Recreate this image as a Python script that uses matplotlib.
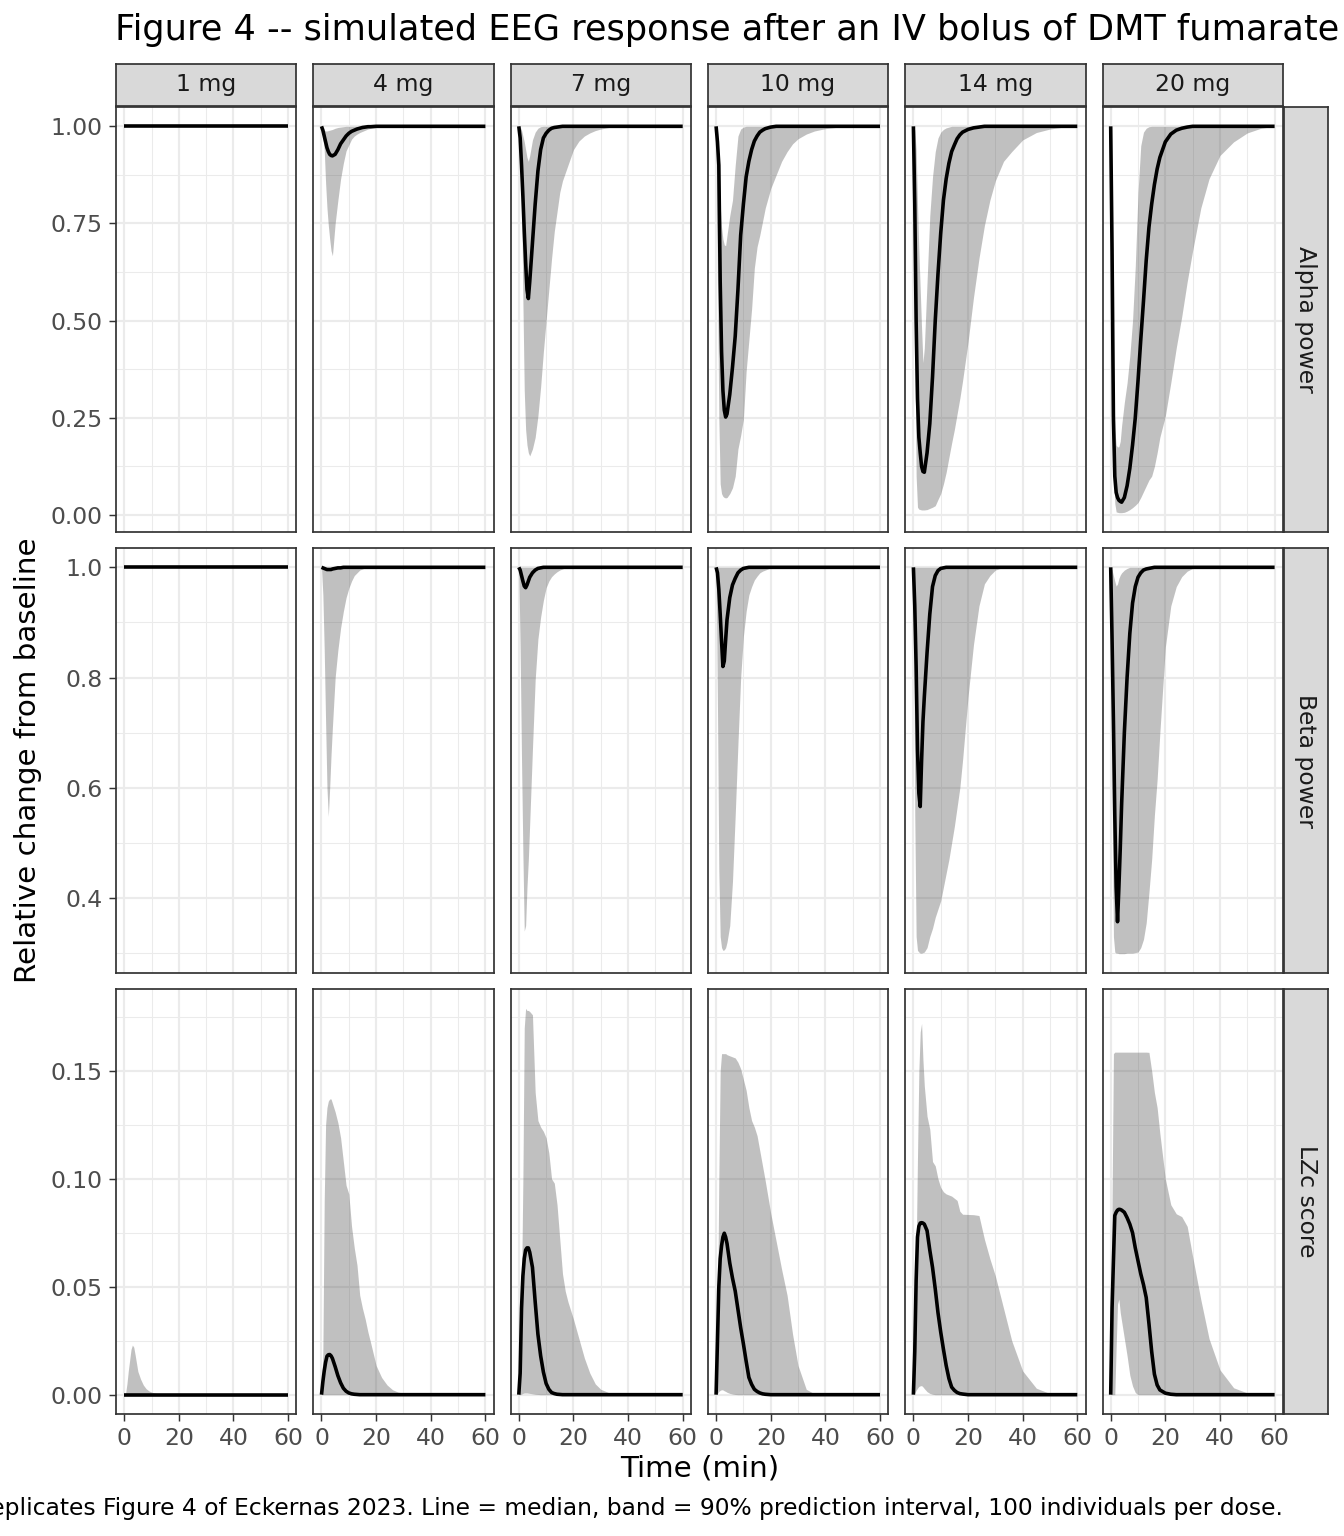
import matplotlib
matplotlib.use("Agg")
import matplotlib.pyplot as plt
from matplotlib.ticker import MultipleLocator, FormatStrFormatter

# facets
doses = ["1 mg", "4 mg", "7 mg", "10 mg", "14 mg", "20 mg"]
metrics = ["Alpha power", "Beta power", "LZc score"]

# shared time grid (min)
time_min = [0, 0.5, 1, 1.5, 2, 2.5, 3, 3.5, 4,
            5, 6, 7, 8, 9, 10, 11, 12, 13, 14, 15, 16, 17, 18,
            20, 22, 24, 26, 28, 30,
            33, 36, 40, 45, 50, 55, 60]

# ---- Alpha power: median, 5th and 95th percentile, one list per dose
alpha_med = [
    [1.0, 1.0, 1.0, 1.0, 1.0, 1.0, 1.0, 1.0, 1.0,
     1.0, 1.0, 1.0, 1.0, 1.0, 1.0, 1.0, 1.0, 1.0, 1.0, 1.0, 1.0, 1.0, 1.0,
     1.0, 1.0, 1.0, 1.0, 1.0, 1.0,
     1.0, 1.0, 1.0, 1.0, 1.0, 1.0, 1.0],
    [1.0, 0.99, 0.975, 0.96, 0.945, 0.935, 0.928, 0.925, 0.924,
     0.928, 0.94, 0.955, 0.965, 0.975, 0.982, 0.987, 0.99, 0.993, 0.995, 0.997, 0.998, 0.999, 0.999,
     1.0, 1.0, 1.0, 1.0, 1.0, 1.0,
     1.0, 1.0, 1.0, 1.0, 1.0, 1.0, 1.0],
    [1.0, 0.97, 0.9, 0.82, 0.73, 0.65, 0.58, 0.557, 0.6,
     0.7, 0.8, 0.885, 0.94, 0.97, 0.982, 0.99, 0.995, 0.997, 0.998, 0.999, 1.0, 1.0, 1.0,
     1.0, 1.0, 1.0, 1.0, 1.0, 1.0,
     1.0, 1.0, 1.0, 1.0, 1.0, 1.0, 1.0],
    [1.0, 0.96, 0.9, 0.6, 0.42, 0.32, 0.27, 0.252, 0.26,
     0.31, 0.38, 0.46, 0.58, 0.72, 0.8, 0.87, 0.91, 0.94, 0.962, 0.975, 0.985, 0.99, 0.994,
     0.998, 1.0, 1.0, 1.0, 1.0, 1.0,
     1.0, 1.0, 1.0, 1.0, 1.0, 1.0, 1.0],
    [1.0, 0.8, 0.5, 0.3, 0.2, 0.16, 0.125, 0.112, 0.11,
     0.16, 0.235, 0.355, 0.5, 0.62, 0.725, 0.81, 0.865, 0.905, 0.935, 0.952, 0.968, 0.978, 0.985,
     0.992, 0.996, 0.998, 1.0, 1.0, 1.0,
     1.0, 1.0, 1.0, 1.0, 1.0, 1.0, 1.0],
    [1.0, 0.68, 0.25, 0.1, 0.058, 0.045, 0.038, 0.035, 0.033,
     0.045, 0.075, 0.12, 0.18, 0.25, 0.345, 0.45, 0.55, 0.655, 0.74, 0.8, 0.85, 0.89, 0.92,
     0.96, 0.98, 0.99, 0.995, 0.998, 1.0,
     1.0, 1.0, 1.0, 1.0, 1.0, 1.0, 1.0],
]
alpha_lo = [
    [1.0, 1.0, 1.0, 1.0, 1.0, 1.0, 1.0, 1.0, 1.0,
     1.0, 1.0, 1.0, 1.0, 1.0, 1.0, 1.0, 1.0, 1.0, 1.0, 1.0, 1.0, 1.0, 1.0,
     1.0, 1.0, 1.0, 1.0, 1.0, 1.0,
     1.0, 1.0, 1.0, 1.0, 1.0, 1.0, 1.0],
    [1.0, 0.97, 0.94, 0.855, 0.79, 0.745, 0.71, 0.68, 0.667,
     0.75, 0.81, 0.865, 0.905, 0.937, 0.952, 0.967, 0.975, 0.98, 0.984, 0.987, 0.99, 0.993, 0.995,
     0.997, 0.999, 1.0, 1.0, 1.0, 1.0,
     1.0, 1.0, 1.0, 1.0, 1.0, 1.0, 1.0],
    [1.0, 0.9, 0.85, 0.55, 0.32, 0.22, 0.18, 0.16, 0.152,
     0.17, 0.2, 0.255, 0.33, 0.42, 0.5, 0.58, 0.66, 0.73, 0.78, 0.83, 0.86, 0.88, 0.9,
     0.94, 0.962, 0.975, 0.983, 0.989, 0.993,
     0.997, 0.999, 1.0, 1.0, 1.0, 1.0, 1.0],
    [1.0, 0.6, 0.25, 0.08, 0.055, 0.048, 0.045, 0.044, 0.045,
     0.055, 0.07, 0.1, 0.17, 0.205, 0.247, 0.37, 0.45, 0.53, 0.635, 0.69, 0.72, 0.755, 0.79,
     0.84, 0.875, 0.91, 0.935, 0.955, 0.968,
     0.98, 0.988, 0.994, 0.998, 1.0, 1.0, 1.0],
    [1.0, 0.5, 0.1, 0.02, 0.015, 0.014, 0.013, 0.013, 0.013,
     0.014, 0.017, 0.02, 0.024, 0.04, 0.055, 0.08, 0.11, 0.148, 0.185, 0.22, 0.26, 0.3, 0.345,
     0.445, 0.56, 0.66, 0.745, 0.81, 0.86,
     0.91, 0.935, 0.965, 0.984, 0.993, 0.998, 1.0],
    [1.0, 0.5, 0.15, 0.03, 0.008, 0.007, 0.006, 0.006, 0.006,
     0.007, 0.01, 0.014, 0.019, 0.025, 0.032, 0.045, 0.06, 0.075, 0.09, 0.1, 0.125, 0.16, 0.2,
     0.255, 0.34, 0.43, 0.51, 0.6, 0.68,
     0.79, 0.865, 0.925, 0.96, 0.983, 0.995, 1.0],
]
alpha_hi = [
    [1.0, 1.0, 1.0, 1.0, 1.0, 1.0, 1.0, 1.0, 1.0,
     1.0, 1.0, 1.0, 1.0, 1.0, 1.0, 1.0, 1.0, 1.0, 1.0, 1.0, 1.0, 1.0, 1.0,
     1.0, 1.0, 1.0, 1.0, 1.0, 1.0,
     1.0, 1.0, 1.0, 1.0, 1.0, 1.0, 1.0],
    [1.0, 0.995, 0.99, 0.988, 0.988, 0.989, 0.99, 0.991, 0.992,
     0.995, 0.997, 0.998, 0.999, 1.0, 1.0, 1.0, 1.0, 1.0, 1.0, 1.0, 1.0, 1.0, 1.0,
     1.0, 1.0, 1.0, 1.0, 1.0, 1.0,
     1.0, 1.0, 1.0, 1.0, 1.0, 1.0, 1.0],
    [1.0, 0.998, 0.99, 0.975, 0.96, 0.94, 0.92, 0.91, 0.925,
     0.965, 0.985, 0.995, 0.999, 1.0, 1.0, 1.0, 1.0, 1.0, 1.0, 1.0, 1.0, 1.0, 1.0,
     1.0, 1.0, 1.0, 1.0, 1.0, 1.0,
     1.0, 1.0, 1.0, 1.0, 1.0, 1.0, 1.0],
    [1.0, 0.99, 0.93, 0.8, 0.74, 0.71, 0.695, 0.693, 0.72,
     0.77, 0.81, 0.9, 0.975, 0.993, 0.998, 1.0, 1.0, 1.0, 1.0, 1.0, 1.0, 1.0, 1.0,
     1.0, 1.0, 1.0, 1.0, 1.0, 1.0,
     1.0, 1.0, 1.0, 1.0, 1.0, 1.0, 1.0],
    [1.0, 0.99, 0.94, 0.8, 0.68, 0.58, 0.48, 0.392, 0.43,
     0.6, 0.77, 0.87, 0.935, 0.97, 0.985, 0.992, 0.996, 0.998, 1.0, 1.0, 1.0, 1.0, 1.0,
     1.0, 1.0, 1.0, 1.0, 1.0, 1.0,
     1.0, 1.0, 1.0, 1.0, 1.0, 1.0, 1.0],
    [1.0, 0.75, 0.4, 0.22, 0.18, 0.175, 0.176, 0.19, 0.23,
     0.29, 0.34, 0.41, 0.5, 0.64, 0.83, 0.95, 0.985, 0.995, 0.999, 1.0, 1.0, 1.0, 1.0,
     1.0, 1.0, 1.0, 1.0, 1.0, 1.0,
     1.0, 1.0, 1.0, 1.0, 1.0, 1.0, 1.0],
]

# ---- Beta power
beta_med = [
    [1.0, 1.0, 1.0, 1.0, 1.0, 1.0, 1.0, 1.0, 1.0,
     1.0, 1.0, 1.0, 1.0, 1.0, 1.0, 1.0, 1.0, 1.0, 1.0, 1.0, 1.0, 1.0, 1.0,
     1.0, 1.0, 1.0, 1.0, 1.0, 1.0,
     1.0, 1.0, 1.0, 1.0, 1.0, 1.0, 1.0],
    [1.0, 0.999, 0.998, 0.997, 0.996, 0.996, 0.996, 0.996, 0.997,
     0.998, 0.999, 0.999, 1.0, 1.0, 1.0, 1.0, 1.0, 1.0, 1.0, 1.0, 1.0, 1.0, 1.0,
     1.0, 1.0, 1.0, 1.0, 1.0, 1.0,
     1.0, 1.0, 1.0, 1.0, 1.0, 1.0, 1.0],
    [1.0, 0.995, 0.985, 0.975, 0.966, 0.963, 0.968, 0.975, 0.982,
     0.99, 0.995, 0.998, 0.999, 1.0, 1.0, 1.0, 1.0, 1.0, 1.0, 1.0, 1.0, 1.0, 1.0,
     1.0, 1.0, 1.0, 1.0, 1.0, 1.0,
     1.0, 1.0, 1.0, 1.0, 1.0, 1.0, 1.0],
    [1.0, 0.99, 0.96, 0.915, 0.866, 0.82, 0.83, 0.869, 0.905,
     0.945, 0.968, 0.98, 0.99, 0.995, 0.998, 0.999, 1.0, 1.0, 1.0, 1.0, 1.0, 1.0, 1.0,
     1.0, 1.0, 1.0, 1.0, 1.0, 1.0,
     1.0, 1.0, 1.0, 1.0, 1.0, 1.0, 1.0],
    [1.0, 0.93, 0.82, 0.67, 0.59, 0.566, 0.65, 0.72, 0.765,
     0.845, 0.915, 0.965, 0.985, 0.994, 0.998, 0.999, 1.0, 1.0, 1.0, 1.0, 1.0, 1.0, 1.0,
     1.0, 1.0, 1.0, 1.0, 1.0, 1.0,
     1.0, 1.0, 1.0, 1.0, 1.0, 1.0, 1.0],
    [1.0, 0.87, 0.72, 0.55, 0.42, 0.357, 0.42, 0.49, 0.57,
     0.7, 0.8, 0.88, 0.935, 0.965, 0.982, 0.99, 0.995, 0.997, 0.998, 0.999, 1.0, 1.0, 1.0,
     1.0, 1.0, 1.0, 1.0, 1.0, 1.0,
     1.0, 1.0, 1.0, 1.0, 1.0, 1.0, 1.0],
]
beta_lo = [
    [1.0, 1.0, 1.0, 1.0, 1.0, 1.0, 1.0, 1.0, 1.0,
     1.0, 1.0, 1.0, 1.0, 1.0, 1.0, 1.0, 1.0, 1.0, 1.0, 1.0, 1.0, 1.0, 1.0,
     1.0, 1.0, 1.0, 1.0, 1.0, 1.0,
     1.0, 1.0, 1.0, 1.0, 1.0, 1.0, 1.0],
    [1.0, 0.95, 0.85, 0.72, 0.6, 0.548, 0.6, 0.66, 0.71,
     0.8, 0.85, 0.89, 0.92, 0.945, 0.962, 0.975, 0.985, 0.99, 0.995, 0.997, 0.999, 1.0, 1.0,
     1.0, 1.0, 1.0, 1.0, 1.0, 1.0,
     1.0, 1.0, 1.0, 1.0, 1.0, 1.0, 1.0],
    [1.0, 0.85, 0.65, 0.48, 0.34, 0.35, 0.42, 0.47, 0.536,
     0.67, 0.796, 0.87, 0.91, 0.94, 0.963, 0.975, 0.983, 0.988, 0.992, 0.995, 0.997, 0.999, 1.0,
     1.0, 1.0, 1.0, 1.0, 1.0, 1.0,
     1.0, 1.0, 1.0, 1.0, 1.0, 1.0, 1.0],
    [1.0, 0.75, 0.45, 0.33, 0.31, 0.305, 0.306, 0.31, 0.32,
     0.35, 0.43, 0.55, 0.68, 0.8, 0.875, 0.92, 0.95, 0.965, 0.977, 0.984, 0.99, 0.993, 0.995,
     0.999, 1.0, 1.0, 1.0, 1.0, 1.0,
     1.0, 1.0, 1.0, 1.0, 1.0, 1.0, 1.0],
    [1.0, 0.55, 0.33, 0.305, 0.302, 0.3, 0.3, 0.301, 0.302,
     0.31, 0.33, 0.345, 0.365, 0.38, 0.395, 0.42, 0.445, 0.47, 0.5, 0.53, 0.565, 0.6, 0.65,
     0.765, 0.86, 0.93, 0.97, 0.985, 0.995,
     1.0, 1.0, 1.0, 1.0, 1.0, 1.0, 1.0],
    [1.0, 0.6, 0.33, 0.302, 0.3, 0.3, 0.299, 0.299, 0.299,
     0.299, 0.3, 0.3, 0.3, 0.301, 0.302, 0.31, 0.325, 0.355, 0.41, 0.47, 0.55, 0.615, 0.7,
     0.855, 0.93, 0.965, 0.983, 0.993, 0.998,
     1.0, 1.0, 1.0, 1.0, 1.0, 1.0, 1.0],
]
beta_hi = [
    [1.0, 1.0, 1.0, 1.0, 1.0, 1.0, 1.0, 1.0, 1.0,
     1.0, 1.0, 1.0, 1.0, 1.0, 1.0, 1.0, 1.0, 1.0, 1.0, 1.0, 1.0, 1.0, 1.0,
     1.0, 1.0, 1.0, 1.0, 1.0, 1.0,
     1.0, 1.0, 1.0, 1.0, 1.0, 1.0, 1.0],
    [1.0, 1.0, 1.0, 1.0, 1.0, 1.0, 1.0, 1.0, 1.0,
     1.0, 1.0, 1.0, 1.0, 1.0, 1.0, 1.0, 1.0, 1.0, 1.0, 1.0, 1.0, 1.0, 1.0,
     1.0, 1.0, 1.0, 1.0, 1.0, 1.0,
     1.0, 1.0, 1.0, 1.0, 1.0, 1.0, 1.0],
    [1.0, 1.0, 1.0, 1.0, 1.0, 1.0, 1.0, 1.0, 1.0,
     1.0, 1.0, 1.0, 1.0, 1.0, 1.0, 1.0, 1.0, 1.0, 1.0, 1.0, 1.0, 1.0, 1.0,
     1.0, 1.0, 1.0, 1.0, 1.0, 1.0,
     1.0, 1.0, 1.0, 1.0, 1.0, 1.0, 1.0],
    [1.0, 1.0, 1.0, 1.0, 1.0, 1.0, 1.0, 1.0, 1.0,
     1.0, 1.0, 1.0, 1.0, 1.0, 1.0, 1.0, 1.0, 1.0, 1.0, 1.0, 1.0, 1.0, 1.0,
     1.0, 1.0, 1.0, 1.0, 1.0, 1.0,
     1.0, 1.0, 1.0, 1.0, 1.0, 1.0, 1.0],
    [1.0, 1.0, 1.0, 1.0, 1.0, 1.0, 1.0, 1.0, 1.0,
     1.0, 1.0, 1.0, 1.0, 1.0, 1.0, 1.0, 1.0, 1.0, 1.0, 1.0, 1.0, 1.0, 1.0,
     1.0, 1.0, 1.0, 1.0, 1.0, 1.0,
     1.0, 1.0, 1.0, 1.0, 1.0, 1.0, 1.0],
    [1.0, 0.995, 0.985, 0.975, 0.966, 0.97, 0.98, 0.986, 0.99,
     0.995, 0.998, 1.0, 1.0, 1.0, 1.0, 1.0, 1.0, 1.0, 1.0, 1.0, 1.0, 1.0, 1.0,
     1.0, 1.0, 1.0, 1.0, 1.0, 1.0,
     1.0, 1.0, 1.0, 1.0, 1.0, 1.0, 1.0],
]

# ---- LZc score
lzc_med = [
    [0.0, 0.0, 0.0, 0.0, 0.0, 0.0, 0.0, 0.0, 0.0,
     0.0, 0.0, 0.0, 0.0, 0.0, 0.0, 0.0, 0.0, 0.0, 0.0, 0.0, 0.0, 0.0, 0.0,
     0.0, 0.0, 0.0, 0.0, 0.0, 0.0,
     0.0, 0.0, 0.0, 0.0, 0.0, 0.0, 0.0],
    [0.0, 0.006, 0.011, 0.015, 0.0178, 0.0185, 0.0186, 0.018, 0.0168,
     0.013, 0.0088, 0.0055, 0.003, 0.0016, 0.0008, 0.0004, 0.0002, 0.0001, 0.0, 0.0, 0.0, 0.0, 0.0,
     0.0, 0.0, 0.0, 0.0, 0.0, 0.0,
     0.0, 0.0, 0.0, 0.0, 0.0, 0.0, 0.0],
    [0.0, 0.01, 0.04, 0.055, 0.063, 0.067, 0.068, 0.068, 0.066,
     0.059, 0.043, 0.028, 0.018, 0.0105, 0.0052, 0.0025, 0.001, 0.0005, 0.0002, 0.0001, 0.0, 0.0, 0.0,
     0.0, 0.0, 0.0, 0.0, 0.0, 0.0,
     0.0, 0.0, 0.0, 0.0, 0.0, 0.0, 0.0],
    [0.0, 0.025, 0.05, 0.063, 0.069, 0.073, 0.0748, 0.073, 0.07,
     0.061, 0.054, 0.048, 0.0395, 0.031, 0.0235, 0.0155, 0.008, 0.0048, 0.0025, 0.0015, 0.0008, 0.0004, 0.0002,
     0.0, 0.0, 0.0, 0.0, 0.0, 0.0,
     0.0, 0.0, 0.0, 0.0, 0.0, 0.0, 0.0],
    [0.0, 0.02, 0.053, 0.073, 0.078, 0.0795, 0.0797, 0.0795, 0.079,
     0.076, 0.067, 0.059, 0.049, 0.038, 0.029, 0.021, 0.0135, 0.0075, 0.0035, 0.002, 0.001, 0.0005, 0.0003,
     0.0, 0.0, 0.0, 0.0, 0.0, 0.0,
     0.0, 0.0, 0.0, 0.0, 0.0, 0.0, 0.0],
    [0.0, 0.04, 0.062, 0.083, 0.0845, 0.0855, 0.0859, 0.0858, 0.0855,
     0.0845, 0.082, 0.079, 0.075, 0.068, 0.062, 0.056, 0.051, 0.045, 0.033, 0.02, 0.0095, 0.0045, 0.0022,
     0.0007, 0.0002, 0.0, 0.0, 0.0, 0.0,
     0.0, 0.0, 0.0, 0.0, 0.0, 0.0, 0.0],
]
lzc_lo = [
    [0.0, 0.0, 0.0, 0.0, 0.0, 0.0, 0.0, 0.0, 0.0,
     0.0, 0.0, 0.0, 0.0, 0.0, 0.0, 0.0, 0.0, 0.0, 0.0, 0.0, 0.0, 0.0, 0.0,
     0.0, 0.0, 0.0, 0.0, 0.0, 0.0,
     0.0, 0.0, 0.0, 0.0, 0.0, 0.0, 0.0],
    [0.0, 0.0, 0.0, 0.0, 0.0, 0.0, 0.0, 0.0, 0.0,
     0.0, 0.0, 0.0, 0.0, 0.0, 0.0, 0.0, 0.0, 0.0, 0.0, 0.0, 0.0, 0.0, 0.0,
     0.0, 0.0, 0.0, 0.0, 0.0, 0.0,
     0.0, 0.0, 0.0, 0.0, 0.0, 0.0, 0.0],
    [0.0, 0.0, 0.0003, 0.0006, 0.0008, 0.0008, 0.0008, 0.0007, 0.0006,
     0.0004, 0.0002, 0.0001, 0.0, 0.0, 0.0, 0.0, 0.0, 0.0, 0.0, 0.0, 0.0, 0.0, 0.0,
     0.0, 0.0, 0.0, 0.0, 0.0, 0.0,
     0.0, 0.0, 0.0, 0.0, 0.0, 0.0, 0.0],
    [0.0, 0.0005, 0.0015, 0.002, 0.0023, 0.0022, 0.0018, 0.0015, 0.0011,
     0.0006, 0.0003, 0.0001, 0.0, 0.0, 0.0, 0.0, 0.0, 0.0, 0.0, 0.0, 0.0, 0.0, 0.0,
     0.0, 0.0, 0.0, 0.0, 0.0, 0.0,
     0.0, 0.0, 0.0, 0.0, 0.0, 0.0, 0.0],
    [0.0, 0.0008, 0.002, 0.003, 0.0038, 0.0041, 0.0042, 0.0036, 0.0028,
     0.0014, 0.0006, 0.0002, 0.0, 0.0, 0.0, 0.0, 0.0, 0.0, 0.0, 0.0, 0.0, 0.0, 0.0,
     0.0, 0.0, 0.0, 0.0, 0.0, 0.0,
     0.0, 0.0, 0.0, 0.0, 0.0, 0.0, 0.0],
    [0.0, 0.0, 0.0, 0.0, 0.022, 0.042, 0.0443, 0.038, 0.034,
     0.026, 0.018, 0.009, 0.004, 0.001, 0.0, 0.0, 0.0, 0.0, 0.0, 0.0, 0.0, 0.0, 0.0,
     0.0, 0.0, 0.0, 0.0, 0.0, 0.0,
     0.0, 0.0, 0.0, 0.0, 0.0, 0.0, 0.0],
]
lzc_hi = [
    [0.0, 0.0005, 0.005, 0.011, 0.016, 0.021, 0.023, 0.022, 0.0185,
     0.0108, 0.0072, 0.0045, 0.0028, 0.0018, 0.0012, 0.0008, 0.0005, 0.0004, 0.0003, 0.0002, 0.0001, 0.0001, 0.0,
     0.0, 0.0, 0.0, 0.0, 0.0, 0.0,
     0.0, 0.0, 0.0, 0.0, 0.0, 0.0, 0.0],
    [0.0, 0.02, 0.09, 0.125, 0.133, 0.136, 0.137, 0.137, 0.135,
     0.131, 0.126, 0.119, 0.108, 0.097, 0.093, 0.078, 0.068, 0.06, 0.046, 0.04, 0.035, 0.029, 0.024,
     0.0135, 0.008, 0.0045, 0.0023, 0.0012, 0.0007,
     0.0003, 0.0, 0.0, 0.0, 0.0, 0.0, 0.0],
    [0.0, 0.012, 0.05, 0.1, 0.17, 0.179, 0.178, 0.178, 0.1775,
     0.176, 0.14, 0.127, 0.124, 0.122, 0.119, 0.112, 0.1, 0.098, 0.088, 0.072, 0.056, 0.048, 0.043,
     0.035, 0.026, 0.017, 0.01, 0.005, 0.0025,
     0.0009, 0.0002, 0.0, 0.0, 0.0, 0.0, 0.0],
    [0.0, 0.035, 0.1, 0.15, 0.158, 0.158, 0.158, 0.158, 0.1575,
     0.157, 0.1565, 0.156, 0.154, 0.151, 0.146, 0.141, 0.133, 0.127, 0.124, 0.12, 0.113, 0.106, 0.099,
     0.084, 0.071, 0.058, 0.046, 0.028, 0.0135,
     0.0025, 0.0004, 0.0, 0.0, 0.0, 0.0, 0.0],
    [0.0, 0.025, 0.065, 0.11, 0.15, 0.168, 0.172, 0.155, 0.143,
     0.129, 0.123, 0.108, 0.106, 0.1, 0.096, 0.094, 0.093, 0.0925, 0.092, 0.091, 0.09, 0.085, 0.0836,
     0.0835, 0.0834, 0.083, 0.072, 0.063, 0.055,
     0.04, 0.025, 0.011, 0.003, 0.0005, 0.0, 0.0],
    [0.0, 0.09, 0.158, 0.1587, 0.1587, 0.1587, 0.1587, 0.1587, 0.1587,
     0.1587, 0.1587, 0.1587, 0.1587, 0.1587, 0.1587, 0.1587, 0.1587, 0.1587, 0.1586, 0.15, 0.14, 0.133, 0.121,
     0.1, 0.088, 0.0838, 0.0825, 0.078, 0.064,
     0.044, 0.026, 0.0115, 0.0032, 0.0008, 0.0, 0.0],
]

rows = [(alpha_med, alpha_lo, alpha_hi),
        (beta_med, beta_lo, beta_hi),
        (lzc_med, lzc_lo, lzc_hi)]
y_steps = [0.25, 0.2, 0.05]
y_fmts = ["%.2f", "%.1f", "%.2f"]

# layout in pixels of the 1344 x 1536 canvas
W, H = 1344, 1536
DPI = 192
left0, pw, gap = 116, 180.3, 17.0
row_tops = [107, 548, 989]
ph = 425
strip_h = 43
strip_w = 44

fig = plt.figure(figsize=(W / DPI, H / DPI), dpi=DPI)


def fbox(x, y, w, h):
    # pixel box (top-left origin) -> figure fraction
    return [x / W, 1 - (y + h) / H, w / W, h / H]


def strip(rect, label, rot=0):
    sa = fig.add_axes(rect)
    sa.set_facecolor("#D9D9D9")
    sa.set_xticks([])
    sa.set_yticks([])
    for s in sa.spines.values():
        s.set_color("#333333")
        s.set_linewidth(0.65)
    sa.text(0.5, 0.5, label, transform=sa.transAxes, ha="center", va="center",
            fontsize=8.8, color="#1A1A1A", rotation=rot)


for r, (med, lo, hi) in enumerate(rows):
    allv = [v for group in (med, lo, hi) for s in group for v in s]
    vmin, vmax = min(allv), max(allv)
    pad = 0.05 * (vmax - vmin)
    top = row_tops[r]
    for c, dose in enumerate(doses):
        x = left0 + c * (pw + gap)
        ax = fig.add_axes(fbox(x, top, pw, ph))
        ax.set_axisbelow(True)
        ax.fill_between(time_min, lo[c], hi[c], color="#4D4D4D", alpha=0.35, linewidth=0)
        ax.plot(time_min, med[c], color="black", lw=1.35, solid_capstyle="butt")
        ax.set_xlim(-3, 63)
        ax.set_ylim(vmin - pad, vmax + pad)
        ax.xaxis.set_major_locator(MultipleLocator(20))
        ax.xaxis.set_minor_locator(MultipleLocator(10))
        ax.yaxis.set_major_locator(MultipleLocator(y_steps[r]))
        ax.yaxis.set_minor_locator(MultipleLocator(y_steps[r] / 2))
        ax.yaxis.set_major_formatter(FormatStrFormatter(y_fmts[r]))
        ax.grid(which="major", color="#EBEBEB", lw=0.8)
        ax.grid(which="minor", color="#EBEBEB", lw=0.4)
        for s in ax.spines.values():
            s.set_color("#333333")
            s.set_linewidth(0.65)
        ax.tick_params(which="major", length=2.75, width=0.55, color="#333333",
                       labelsize=8.8, labelcolor="#4D4D4D", pad=2.2)
        ax.tick_params(which="minor", length=0)
        if c > 0:
            ax.tick_params(left=False, labelleft=False)
        if r < 2:
            ax.tick_params(bottom=False, labelbottom=False)
        if r == 0:
            strip(fbox(x, top - strip_h, pw, strip_h - 1), dose)
    strip(fbox(1284, top, strip_w, ph), metrics[r], rot=-90)

panel_right = left0 + 5 * (pw + gap) + pw
fig.text(115 / W, 1 - 30 / H, "Figure 4 -- simulated EEG response after an IV bolus of DMT fumarate",
         ha="left", va="center", fontsize=13.2, color="black")
fig.text((left0 + panel_right) / 2 / W, 1 - 1469 / H, "Time (min)",
         ha="center", va="center", fontsize=11)
fig.text(28 / W, 1 - 760 / H, "Relative change from baseline",
         ha="center", va="center", rotation=90, fontsize=11)
fig.text(panel_right / W, 1 - 1508 / H,
         "Replicates Figure 4 of Eckernas 2023. Line = median, band = 90% prediction interval, "
         "100 individuals per dose.",
         ha="right", va="center", fontsize=8.75)

fig.savefig("out.png", dpi=DPI)
